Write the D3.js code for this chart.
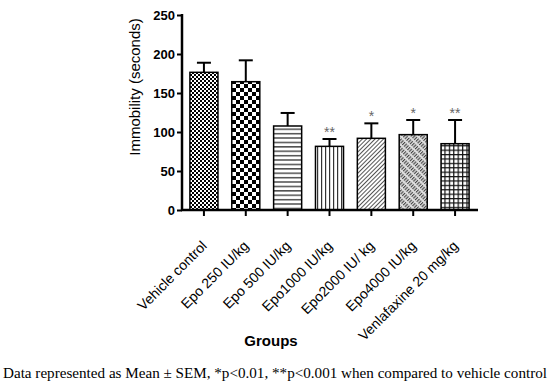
<!DOCTYPE html>
<html>
<head>
<meta charset="utf-8">
<script src="https://cdn.jsdelivr.net/npm/d3@7"></script>
<style>
  body { margin: 0; background: #fff; }
  svg { display: block; }
</style>
</head>
<body>
<div id="chart"></div>
<script>
const groups = ["Vehicle control", "Epo 250 IU/kg", "Epo 500 IU/kg", "Epo1000 IU/kg",
                "Epo2000 IU/ kg", "Epo4000 IU/kg", "Venlafaxine 20 mg/kg"];
const means = [176.5, 164.5, 107.7, 81.6, 91.9, 96.6, 85.0];
const sems = [12.3, 27.4, 16.7, 9.4, 19.2, 18.8, 30.4];
const stars = ["", "", "", "**", "*", "*", "**"];
const patterns = ["checkFine", "checkBig", "hLines", "vLines", "diag", "diagDense", "grid"];
const yTicks = [0, 50, 100, 150, 200, 250];

const width = 550;
const height = 386;

const svg = d3.select("#chart")
    .append("svg")
    .attr("width", width)
    .attr("height", height);

const defs = svg.append("defs");

// fine checkerboard
let p = defs.append("pattern").attr("id", "checkFine")
    .attr("patternUnits", "userSpaceOnUse").attr("width", 4).attr("height", 4);
p.append("rect").attr("width", 4).attr("height", 4).attr("fill", "#fff");
p.append("rect").attr("width", 2).attr("height", 2).attr("fill", "#000");
p.append("rect").attr("x", 2).attr("y", 2).attr("width", 2).attr("height", 2).attr("fill", "#000");

// big checkerboard
p = defs.append("pattern").attr("id", "checkBig")
    .attr("patternUnits", "userSpaceOnUse").attr("width", 8).attr("height", 8);
p.append("rect").attr("width", 8).attr("height", 8).attr("fill", "#fff");
p.append("rect").attr("width", 4).attr("height", 4).attr("fill", "#000");
p.append("rect").attr("x", 4).attr("y", 4).attr("width", 4).attr("height", 4).attr("fill", "#000");

// horizontal lines
p = defs.append("pattern").attr("id", "hLines")
    .attr("patternUnits", "userSpaceOnUse").attr("width", 8).attr("height", 4.4);
p.append("rect").attr("width", 8).attr("height", 4.4).attr("fill", "#fff");
p.append("rect").attr("y", 1).attr("width", 8).attr("height", 1.3).attr("fill", "#333");

// vertical lines
p = defs.append("pattern").attr("id", "vLines")
    .attr("patternUnits", "userSpaceOnUse").attr("width", 4).attr("height", 8);
p.append("rect").attr("width", 4).attr("height", 8).attr("fill", "#fff");
p.append("rect").attr("x", 1).attr("width", 1.2).attr("height", 8).attr("fill", "#333");

// diagonal hatch
p = defs.append("pattern").attr("id", "diag")
    .attr("patternUnits", "userSpaceOnUse").attr("width", 3).attr("height", 8)
    .attr("patternTransform", "rotate(45)");
p.append("rect").attr("width", 3).attr("height", 8).attr("fill", "#fff");
p.append("rect").attr("width", 1).attr("height", 8).attr("fill", "#555");

// dense diagonal hatch
p = defs.append("pattern").attr("id", "diagDense")
    .attr("patternUnits", "userSpaceOnUse").attr("width", 2.4).attr("height", 6)
    .attr("patternTransform", "rotate(45)");
p.append("rect").attr("width", 2.4).attr("height", 6).attr("fill", "#ddd");
p.append("rect").attr("width", 1.1).attr("height", 4).attr("fill", "#444");

// grid
p = defs.append("pattern").attr("id", "grid")
    .attr("patternUnits", "userSpaceOnUse").attr("width", 4.4).attr("height", 4.4);
p.append("rect").attr("width", 4.4).attr("height", 4.4).attr("fill", "#fff");
p.append("rect").attr("width", 4.4).attr("height", 1.2).attr("fill", "#111");
p.append("rect").attr("width", 1.2).attr("height", 4.4).attr("fill", "#111");

const margin = { top: 15, left: 183, right: 74, bottom: 176 };

const xScale = d3.scaleBand()
    .domain(groups)
    .range([margin.left, width - margin.right])
    .paddingInner(0.33)
    .paddingOuter(0.165);

const yScale = d3.scaleLinear()
    .domain([0, 250])
    .range([height - margin.bottom, margin.top]);

const bars = svg.selectAll("rect.bar")
    .data(groups)
    .enter()
    .append("rect")
        .attr("class", "bar")
        .attr("x", function(d) { return xScale(d); })
        .attr("y", function(d, i) { return yScale(means[i]); })
        .attr("width", xScale.bandwidth())
        .attr("height", function(d, i) { return yScale(0) - yScale(means[i]); })
        .attr("fill", function(d, i) { return `url(#${patterns[i]})`; })
        .attr("stroke", "#000")
        .attr("stroke-width", 1.5);

// error bars (upper only)
const err = svg.append("g").attr("stroke", "#000").attr("stroke-width", 2);
groups.forEach(function(g, i) {
    const cx = xScale(g) + xScale.bandwidth() / 2;
    err.append("line")
        .attr("x1", cx).attr("x2", cx)
        .attr("y1", yScale(means[i])).attr("y2", yScale(means[i] + sems[i]));
    err.append("line")
        .attr("x1", cx - 7).attr("x2", cx + 7)
        .attr("y1", yScale(means[i] + sems[i])).attr("y2", yScale(means[i] + sems[i]));
});

svg.selectAll("text.star")
    .data(groups)
    .enter()
    .append("text")
        .attr("class", "star")
        .attr("x", function(d) { return xScale(d) + xScale.bandwidth() / 2; })
        .attr("y", function(d, i) { return yScale(means[i] + sems[i]) - 2; })
        .attr("text-anchor", "middle")
        .attr("font-family", "Liberation Sans, Arial, sans-serif")
        .attr("font-size", 14)
        .attr("fill", "#666")
        .text(function(d, i) { return stars[i]; });

const yAxis = svg.append("g")
    .attr("transform", `translate(${margin.left - 1},0)`)
    .call(d3.axisLeft(yScale).tickValues(yTicks).tickSize(5).tickPadding(2).tickSizeOuter(0));

const xAxis = svg.append("g")
    .attr("transform", `translate(0,${height - margin.bottom})`)
    .call(d3.axisBottom(xScale).tickSize(6).tickSizeOuter(0));

[yAxis, xAxis].forEach(function(a) {
    a.select(".domain").attr("stroke-width", 2.5);
    a.selectAll(".tick line").attr("stroke-width", 2);
});

yAxis.select(".domain").attr("d", `M0,${yScale(0) + 1}V${yScale(250) - 1}`);
xAxis.select(".domain").attr("d", `M${margin.left - 2},0H${width - margin.right + 2}`);

yAxis.selectAll("text")
    .attr("font-family", "Liberation Sans, Arial, sans-serif")
    .attr("font-weight", "bold")
    .attr("font-size", 13)
    .attr("fill", "#000");

xAxis.selectAll("text")
    .attr("font-family", "Liberation Sans, Arial, sans-serif")
    .attr("font-size", 14)
    .attr("fill", "#000")
    .attr("text-anchor", "end")
    .attr("dy", "0.35em")
    .attr("transform", "translate(-6,27) rotate(-45)");

svg.append("text")
    .attr("transform", "rotate(-90)")
    .attr("x", -87)
    .attr("y", 140)
    .attr("text-anchor", "middle")
    .attr("font-family", "Liberation Sans, Arial, sans-serif")
    .attr("font-size", 15)
    .text("Immobility (seconds)");

svg.append("text")
    .attr("x", 271)
    .attr("y", 346)
    .attr("text-anchor", "middle")
    .attr("font-family", "Liberation Sans, Arial, sans-serif")
    .attr("font-weight", "bold")
    .attr("font-size", 15)
    .text("Groups");

svg.append("text")
    .attr("x", 3)
    .attr("y", 378)
    .attr("font-family", "Liberation Serif, Times New Roman, serif")
    .attr("font-size", 15)
    .attr("textLength", 544)
    .attr("lengthAdjust", "spacingAndGlyphs")
    .text("Data represented as Mean \u00b1 SEM, *p<0.01, **p<0.001 when compared to vehicle control");
</script>
</body>
</html>
